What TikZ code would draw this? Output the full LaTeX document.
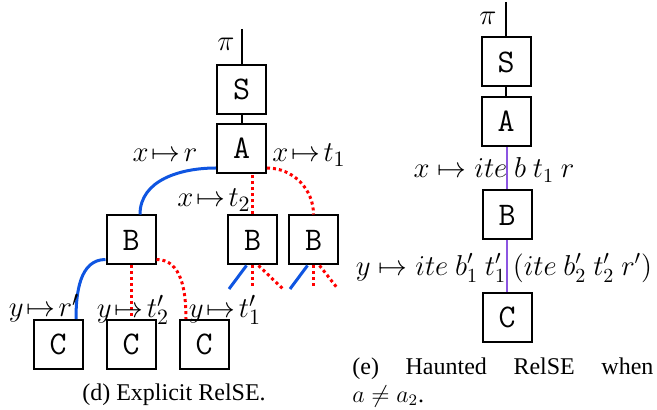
\documentclass[tikz,border=0pt]{standalone}
\usepackage{fontspec}
\setmainfont{Liberation Serif}

\definecolor{pathblue}{RGB}{15,85,225}
\definecolor{hauntpurple}{RGB}{140,85,225}

\newcommand*{\lblsize}{\fontsize{15}{18}\selectfont}
\newcommand*{\itesize}{\fontsize{13.6}{16}\selectfont}
\newcommand*{\blksize}{\fontsize{16.5}{16.5}\selectfont}
\newcommand*{\bind}{\mskip2mu{\mapsto}\mskip2mu}

\begin{document}
\begin{tikzpicture}
[
	x=0.5pt, y=-0.5pt,
	blk/.style={draw,line width=1pt,minimum size=24.5pt,inner sep=0pt,font=\blksize\ttfamily},
	lbl/.style={inner sep=0pt,font=\lblsize},
	itelbl/.style={inner sep=0pt,font=\itesize},
	solidpath/.style={pathblue,line width=1.5pt},
	dotpath/.style={red,line width=1.5pt,dash pattern=on 1.5pt off 1.5pt},
	hauntpath/.style={hauntpurple,line width=1pt},
	stem/.style={line width=1pt}
]

	\useasboundingbox (0,0) rectangle (657,410);

	% (d) explicit relse
	\coordinate (topd) at (241.5,29);
	\node[blk] at (241.5,89.5) (Sd) {S};
	\node[blk] at (241.5,148.5) (Ad) {A};
	\node[blk] at (131,240) (Bl) {B};
	\node[blk] at (252.5,240) (Bm) {B};
	\node[blk] at (313.5,240) (Br) {B};
	\node[blk] at (58,344.5) (Cl) {C};
	\node[blk] at (131,344.5) (Cm) {C};
	\node[blk] at (204,344.5) (Cr) {C};

	\draw[stem] (topd) -- (Sd);
	\draw[stem] (Sd) -- (Ad);
	\node[lbl] at (226,44) (pid-lbl) {$\pi$};

	\draw[solidpath] ([yshift=3pt]Ad.south west) to[out=180,in=90] ([xshift=4.5pt]Bl.north);
	\draw[dotpath] (Bm.north) -- (Bm.north |- Ad.south);
	\draw[dotpath] ([yshift=3pt]Ad.south east) to[out=0,in=90] (Br.north);

	\node[lbl] at (165,155) (xr) {$x \bind r$};
	\node[lbl] at (309,155) (xt1) {$x \bind t_1$};
	\node[lbl] at (214,200) (xt2) {$x \bind t_2$};

	% cut branches
	\coordinate (bm1) at (229,289);
	\coordinate (bm2) at (252.5,289);
	\coordinate (bm3) at (283,289);
	\coordinate (br1) at (290,289);
	\coordinate (br2) at (313.5,289);
	\coordinate (br3) at (338,289);
	\draw[solidpath] ([xshift=-3pt]Bm.south) -- (bm1);
	\draw[dotpath] (Bm.south) -- (bm2);
	\draw[dotpath] ([xshift=3pt]Bm.south) -- (bm3);
	\draw[solidpath] ([xshift=-3pt]Br.south) -- (br1);
	\draw[dotpath] (Br.south) -- (br2);
	\draw[dotpath] ([xshift=3pt]Br.south) -- (br3);

	\draw[solidpath] ([yshift=3pt]Bl.south west) to[out=180,in=90] ([xshift=9pt]Cl.north);
	\draw[dotpath] (Bl.south) -- (Cm.north);
	\draw[dotpath] ([yshift=3pt]Bl.south east) to[out=0,in=90] ([xshift=-9pt]Cr.north);

	\node[lbl] at (44,308) (yr) {$y \bind r'$};
	\node[lbl] at (133,310) (yt2) {$y \bind t_2'$};
	\node[lbl] at (225,310) (yt1) {$y \bind t_1'$};

	\node[font=\fontsize{12}{14}\selectfont] at (174,395) (capd) {(d) Explicit RelSE.};

	% (e) haunted relse
	\coordinate (tope) at (506,2);
	\node[blk] at (506,62) (Se) {S};
	\node[blk] at (506,121.5) (Ae) {A};
	\node[blk] at (507,215) (Be) {B};
	\node[blk] at (507,317.5) (Ce) {C};

	\draw[stem] (tope) -- (Se);
	\draw[stem] (Se) -- (Ae);
	\node[lbl] at (488,18) (pie-lbl) {$\pi$};

	\draw[hauntpath] (Ae.south -| Be.north) -- (Be.north);
	\draw[hauntpath] (Be) -- (Ce);

	\node[itelbl] at (494,170) (xite) {$x \mapsto ite\ b\ t_1\ r$};
	\node[itelbl] at (504,268) (yite) {$y \mapsto ite\ b_1'\ t_1'\ (ite\ b_2'\ t_2'\ r')$};

	\node[font=\fontsize{12}{14}\selectfont,text width=150.5pt,align=justify,inner sep=0pt,anchor=north west]
		at (352,357) (cape) {(e) Haunted RelSE when\linebreak $a \neq a_2$.};

\end{tikzpicture}
\end{document}
